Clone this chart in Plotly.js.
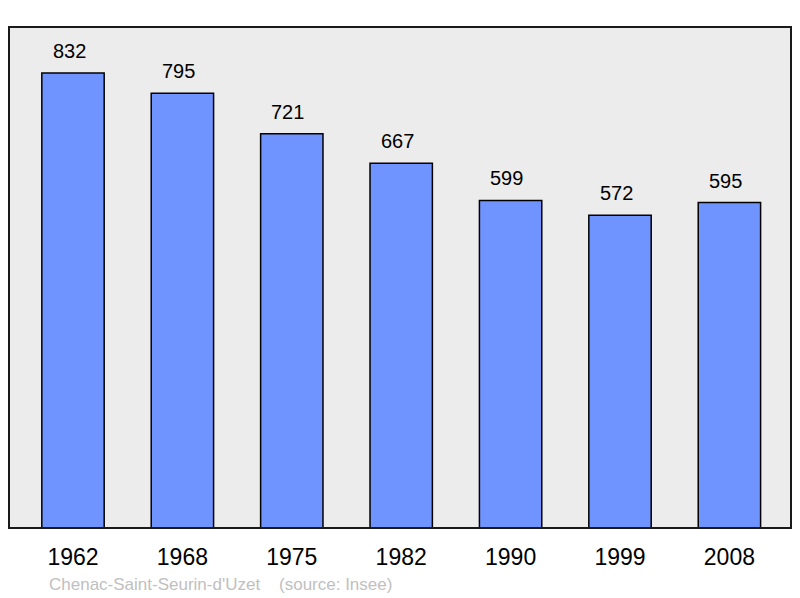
<!DOCTYPE html>
<html><head><meta charset="utf-8">
<script src="https://cdn.plot.ly/plotly-3.0.1.min.js"></script>
<style>html,body{margin:0;padding:0;background:#fff}#c{width:800px;height:598px}</style>
</head><body><div id="c"></div>
<script>
const years = ["1962","1968","1975","1982","1990","1999","2008"];
const population = [832,795,721,667,599,572,595];
const sourceText = "Chenac-Saint-Seurin-d'Uzet \u00a0\u00a0\u00a0(source: Insee)";

const xs = years.map((_, i) => i);
const trace = {
  type: 'bar', x: xs, y: population, width: 0.57,
  marker: {color: '#7094ff', line: {color: '#000', width: 1.5}},
  hoverinfo: 'none'
};
const ann = population.map((v, i) => ({
  x: i, y: v, text: String(v), showarrow: false, yanchor: 'bottom', yshift: 9, xshift: -4,
  font: {family: 'Liberation Sans, Arial, sans-serif', size: 20, color: '#000'}
}));
ann.push({xref: 'paper', yref: 'paper', x: 38/782, y: 0, xanchor: 'left', yanchor: 'middle',
  yshift: -56, text: sourceText, showarrow: false,
  font: {family: 'Liberation Sans, Arial, sans-serif', size: 17, color: '#c0c0c0'}});
const layout = {
  width: 800, height: 598,
  margin: {l: 9, r: 9, t: 27, b: 70},
  paper_bgcolor: '#fff', plot_bgcolor: '#ececec',
  showlegend: false,
  xaxis: {range: [-0.585, 6.563], tickvals: xs, ticktext: years, showgrid: false, zeroline: false,
    ticks: '', ticklabelstandoff: 13, fixedrange: true,
    tickfont: {family: 'Liberation Sans, Arial, sans-serif', size: 23, color: '#000'}},
  yaxis: {range: [0, 916], showgrid: false, zeroline: false, showticklabels: false, ticks: ''},
  annotations: ann,
  shapes: [{type: 'rect', xref: 'paper', yref: 'paper', x0: 0, x1: 1, y0: 0, y1: 1,
    line: {color: '#1a1a1a', width: 2}}]
};
Plotly.newPlot('c', [trace], layout, {staticPlot: true});
</script></body></html>
